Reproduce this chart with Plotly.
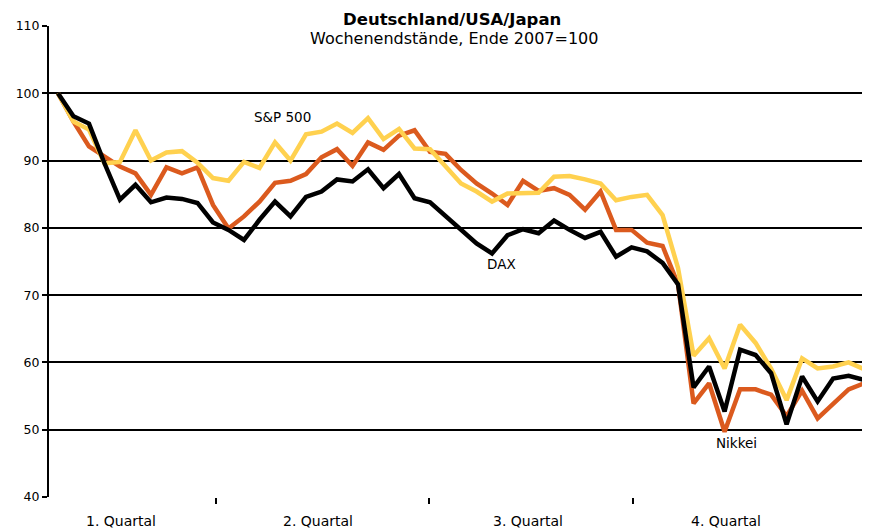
import plotly.graph_objects as go

weeks = list(range(53))

dax = [100, 96.6, 95.5, 89.6, 84.2, 86.4, 83.8, 84.5, 84.3, 83.7,
       80.8, 79.7, 78.2, 81.2, 83.9, 81.7, 84.6, 85.4, 87.2, 86.9,
       88.7, 85.9, 88.0, 84.4, 83.8, 81.7, 79.7, 77.7, 76.2, 78.9,
       79.8, 79.2, 81.1, 79.7, 78.5, 79.4, 75.7, 77.1, 76.5, 74.8,
       71.6, 56.3, 59.4, 52.7, 61.9, 61.1, 58.4, 50.8, 57.9, 54.2,
       57.6, 58.0, 57.4]

sp500 = [100, 95.8, 94.6, 89.6, 89.8, 94.5, 90.0, 91.2, 91.4, 89.7,
         87.4, 87.0, 89.8, 88.9, 92.7, 90.0, 93.9, 94.3, 95.5, 94.1,
         96.3, 93.2, 94.7, 91.8, 91.7, 89.1, 86.6, 85.4, 83.9, 85.1,
         85.1, 85.2, 87.6, 87.7, 87.2, 86.6, 84.1, 84.6, 84.9, 81.9,
         74.0, 61.0, 63.6, 59.1, 65.6, 62.9, 59.1, 54.4, 60.6, 59.1,
         59.4, 60.0, 59.0]

nikkei = [100, 95.8, 92.1, 90.6, 89.1, 88.1, 84.9, 89.0, 88.1, 89.0,
          83.4, 79.9, 81.7, 83.9, 86.7, 87.0, 88.0, 90.5, 91.7, 89.2,
          92.7, 91.6, 93.7, 94.5, 91.3, 91.0, 88.6, 86.6, 85.1, 83.4,
          87.0, 85.5, 85.9, 84.9, 82.7, 85.4, 79.7, 79.7, 77.8, 77.3,
          71.6, 53.9, 56.9, 49.7, 56.0, 56.0, 55.2, 52.0, 55.8, 51.7,
          53.8, 56.0, 56.9]

quarter_labels = ["1. Quartal", "2. Quartal", "3. Quartal", "4. Quartal"]
quarter_label_pos = [4.05, 16.77, 30.33, 43.06]
quarter_sep = [10.22, 23.91, 37.08]
y_ticks = [40, 50, 60, 70, 80, 90, 100, 110]

FONT = "DejaVu Sans"
YELLOW = "#FFD14F"
ORANGE = "#DB5A1E"

# page body adds an 8px offset; compensate so the plot sits where the reference has it
OFF = 8
L, T, PW, PH = 46 - OFF, 26 - OFF, 824, 471
W, H = 870, 531


def px_x(p):
    return (p - 46) / PW


def px_y(p):
    return (497 - p) / PH


fig = go.Figure()
fig.add_trace(go.Scatter(x=weeks, y=nikkei, mode="lines", name="Nikkei",
                         line=dict(color=ORANGE, width=4.5)))
fig.add_trace(go.Scatter(x=weeks, y=sp500, mode="lines", name="S&P 500",
                         line=dict(color=YELLOW, width=4.5)))
fig.add_trace(go.Scatter(x=weeks, y=dax, mode="lines", name="DAX",
                         line=dict(color="black", width=4.5)))

fig.update_layout(
    width=W, height=H,
    margin=dict(l=L, r=W - L - PW, t=T, b=H - T - PH),
    paper_bgcolor="white", plot_bgcolor="white",
    showlegend=False,
    font=dict(family=FONT, size=12, color="black"),
    xaxis=dict(range=[-0.578, 52.38], tickvals=quarter_sep,
               ticktext=["", "", ""], ticks="outside", ticklen=6,
               tickwidth=1.5, tickcolor="black", showgrid=False,
               zeroline=False, showline=False, fixedrange=True),
    yaxis=dict(range=[40, 110], tickvals=y_ticks, ticks="outside",
               ticklen=5, tickwidth=1.5, tickcolor="black",
               showgrid=True, gridcolor="black", gridwidth=1.5,
               showline=True, linecolor="black", linewidth=2,
               zeroline=False, tickfont=dict(size=12.5, family=FONT)),
)

# white box behind title (breaks the top gridline)
fig.add_shape(type="rect", xref="paper", yref="paper",
              x0=px_x(308), x1=px_x(598), y0=px_y(30), y1=px_y(8),
              fillcolor="white", line=dict(width=0), layer="above")

fig.add_annotation(xref="paper", yref="paper", x=px_x(450), y=px_y(19),
                   text="<b>Deutschland/USA/Japan</b>",
                   showarrow=False, font=dict(size=16.5, family=FONT),
                   xanchor="center", yanchor="middle")
fig.add_annotation(xref="paper", yref="paper", x=px_x(452), y=px_y(39),
                   text="Wochenendstände, Ende 2007=100",
                   showarrow=False, font=dict(size=16, family=FONT),
                   xanchor="center", yanchor="middle")

for lab, pos in zip(quarter_labels, quarter_label_pos):
    fig.add_annotation(x=pos, xref="x", yref="paper", y=px_y(521),
                       text=lab, showarrow=False,
                       font=dict(size=14, family=FONT),
                       xanchor="center", yanchor="middle")

fig.add_annotation(x=14.46, y=96.5, xref="x", yref="y", text="S&P 500",
                   showarrow=False, font=dict(size=13.5, family=FONT),
                   xanchor="center", yanchor="middle")
fig.add_annotation(x=28.6, y=74.6, xref="x", yref="y", text="DAX",
                   showarrow=False, font=dict(size=13.5, family=FONT),
                   xanchor="center", yanchor="middle")
fig.add_annotation(x=43.8, y=48.0, xref="x", yref="y", text="Nikkei",
                   showarrow=False, font=dict(size=13.5, family=FONT),
                   xanchor="center", yanchor="middle")

fig.write_html("out.html")
